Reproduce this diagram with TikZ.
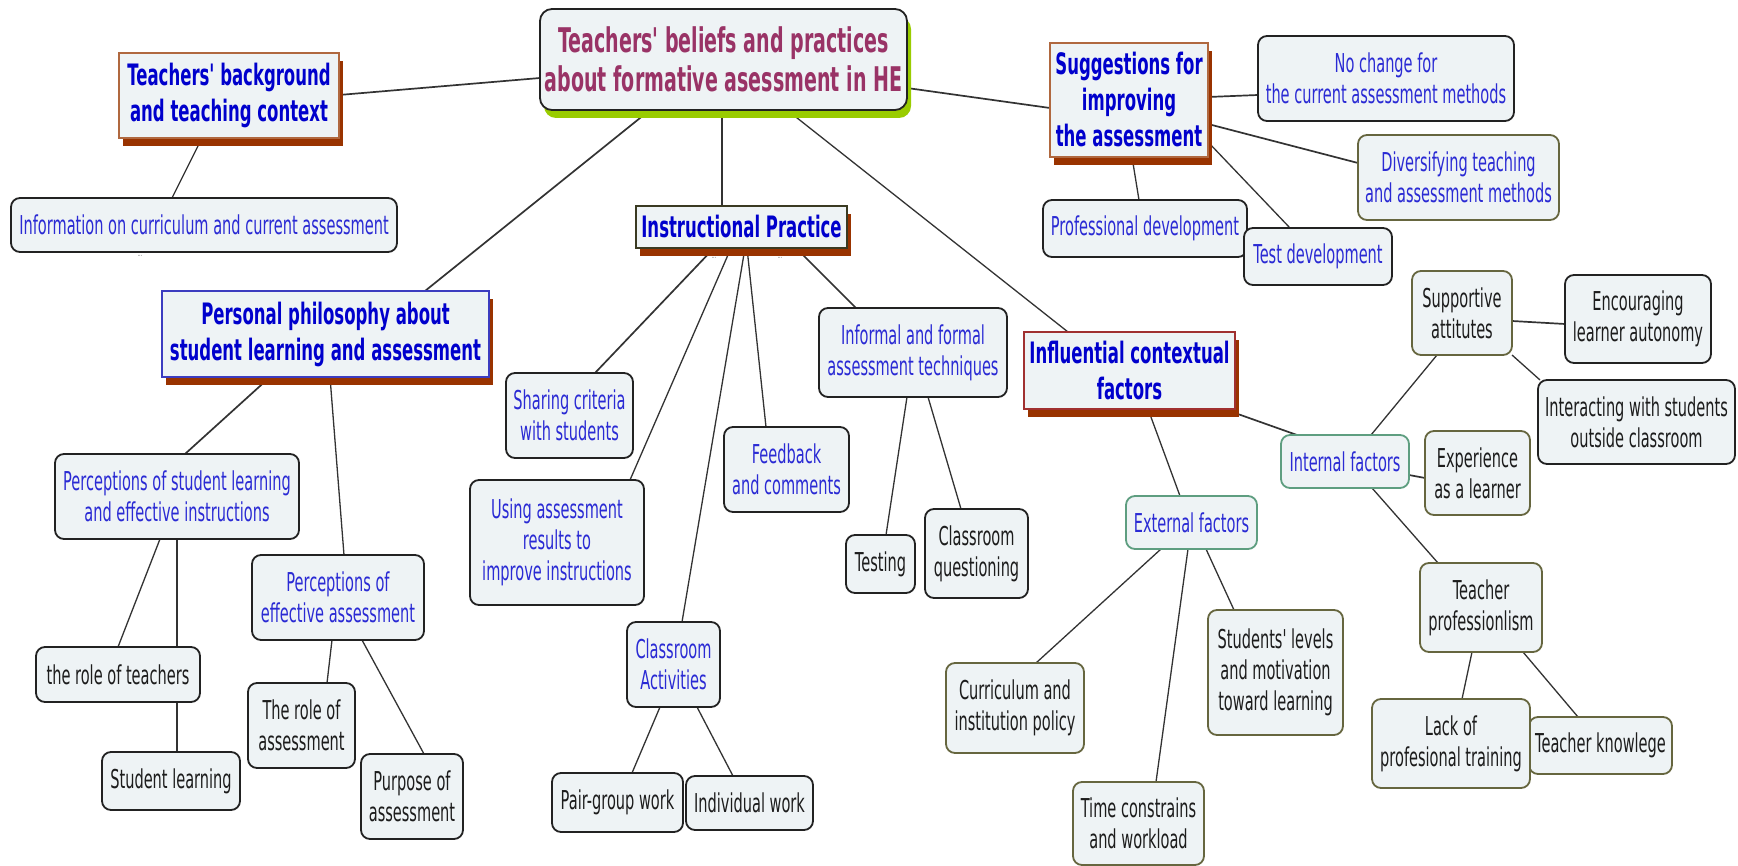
\documentclass[tikz,border=0pt]{standalone}
\usepackage{fontspec}
\setmainfont{DejaVu Sans}[FakeStretch=0.56, Ligatures=TeXOff]
\usetikzlibrary{shadows}
\pgfdeclarelayer{background}
\pgfsetlayers{background,main}

\definecolor{boxfill}{HTML}{EEF3F5}
\definecolor{boxline}{HTML}{222222}
\definecolor{oliveline}{HTML}{66663F}
\definecolor{greenline}{HTML}{5E9E80}
\definecolor{regblue}{HTML}{2A2AD4}
\definecolor{titleblue}{HTML}{0000CC}
\definecolor{roottext}{HTML}{993366}
\definecolor{darktext}{HTML}{1C1C1C}
\definecolor{shadowbrown}{HTML}{993300}
\definecolor{shadowgreen}{HTML}{99CC00}
\definecolor{brownline}{HTML}{B0683F}
\definecolor{blueline}{HTML}{3C3CC0}
\definecolor{redline}{HTML}{A03030}
\definecolor{darkolive}{HTML}{3A3A22}
\definecolor{linkcol}{HTML}{333333}

\tikzset{
  box/.style={draw=boxline, fill=boxfill, rounded corners=9pt, line width=1.8pt,
    inner sep=0pt, outer sep=0pt, align=center, text=regblue,
    font=\fontsize{26}{31}\selectfont},
  dark/.style={text=darktext},
  olive/.style={draw=oliveline},
  greenb/.style={draw=greenline},
  titlebox/.style={fill=boxfill, line width=1.5pt, inner sep=0pt, outer sep=0pt,
    align=center, text=titleblue, font=\bfseries\fontsize{29.5}{36}\selectfont,
    drop shadow={shadow xshift=4pt, shadow yshift=-8pt, fill=shadowbrown, opacity=1}},
  rootbox/.style={draw=boxline, fill=boxfill, rounded corners=12pt, line width=1.8pt,
    inner sep=0pt, outer sep=0pt, align=center, text=roottext,
    font=\bfseries\fontsize{34}{39}\selectfont,
    drop shadow={shadow xshift=4pt, shadow yshift=-8pt, fill=shadowgreen, opacity=1}},
  link/.style={draw=linkcol, line width=1.7pt},
  thinlink/.style={draw=linkcol, line width=1.3pt},
  marker/.style={text=gray, font=\fontsize{9}{9}\selectfont, inner sep=0pt},
}

\begin{document}
\begin{tikzpicture}[x=1pt,y=-1pt]
\begin{pgfonlayer}{background}
  \fill[white] (0,0) rectangle (1738,866);
\end{pgfonlayer}
\useasboundingbox (0,0) rectangle (1738,866);

% central topic
\node[rootbox, minimum width=367pt, minimum height=101pt] (root) at (723.5,59.5)
  {Teachers' beliefs and practices\\about formative asessment in HE};

% main branches
\node[titlebox, draw=brownline, minimum width=220pt, minimum height=85pt] (bg) at (229,95.5)
  {Teachers' background\\and teaching context};
\node[titlebox, draw=brownline, minimum width=158pt, minimum height=114pt] (sugg) at (1129,100)
  {Suggestions for\\improving\\the assessment};
\node[titlebox, draw=blueline, minimum width=327pt, minimum height=86pt] (pers) at (325.5,334)
  {Personal philosophy about\\student learning and assessment};
\node[titlebox, draw=darkolive, minimum width=211pt, minimum height=42pt] (instr) at (741.5,227)
  {Instructional Practice};
\node[titlebox, draw=redline, minimum width=211pt, minimum height=77pt] (influ) at (1129.5,370.5)
  {Influential contextual\\factors};

% background and context
\node[box, minimum width=386pt, minimum height=54pt] (info) at (204,225)
  {Information on curriculum and current assessment};

% suggestions
\node[box, minimum width=256pt, minimum height=85pt] (nochg) at (1386,78.5)
  {No change for\\the current assessment methods};
\node[box, olive, minimum width=201pt, minimum height=85pt] (divers) at (1458.5,177.5)
  {Diversifying teaching\\and assessment methods};
\node[box, minimum width=204pt, minimum height=57pt] (profdev) at (1145,228.5)
  {Professional development};
\node[box, minimum width=148pt, minimum height=57pt] (testdev) at (1318,256.5)
  {Test development};

% personal philosophy
\node[box, minimum width=244pt, minimum height=85pt] (percstu) at (177,496.5)
  {Perceptions of student learning\\and effective instructions};
\node[box, minimum width=172pt, minimum height=85pt] (perceff) at (338,597.5)
  {Perceptions of\\effective assessment};
\node[box, dark, minimum width=164pt, minimum height=55pt] (roleteach) at (118,674.5)
  {the role of teachers};
\node[box, dark, minimum width=138pt, minimum height=58pt] (stulearn) at (171,781)
  {Student learning};
\node[box, dark, minimum width=107pt, minimum height=85pt] (roleass) at (301.5,725.5)
  {The role of\\assessment};
\node[box, dark, minimum width=102pt, minimum height=85pt] (purpose) at (412,796.5)
  {Purpose of\\assessment};

% instructional practice
\node[box, minimum width=127pt, minimum height=85pt] (sharing) at (569.5,415.5)
  {Sharing criteria\\with students};
\node[box, minimum width=174pt, minimum height=125pt] (using) at (557,542.5)
  {Using assessment\\results to\\improve instructions};
\node[box, minimum width=125pt, minimum height=85pt] (feedback) at (786.5,469.5)
  {Feedback\\and comments};
\node[box, minimum width=188pt, minimum height=89pt] (informal) at (913,352.5)
  {Informal and formal\\assessment techniques};
\node[box, dark, minimum width=69pt, minimum height=58pt] (testing) at (880.5,564)
  {Testing};
\node[box, dark, minimum width=103pt, minimum height=89pt] (classq) at (976.5,553.5)
  {Classroom\\questioning};
\node[box, minimum width=93pt, minimum height=85pt] (classact) at (673.5,664.5)
  {Classroom\\Activities};
\node[box, dark, minimum width=131pt, minimum height=59pt] (pair) at (617.5,802.5)
  {Pair-group work};
\node[box, dark, minimum width=127pt, minimum height=54pt] (indiv) at (749.5,803)
  {Individual work};

% contextual factors
\node[box, greenb, minimum width=128pt, minimum height=53pt] (internal) at (1345,461.5)
  {Internal factors};
\node[box, greenb, minimum width=131pt, minimum height=53pt] (external) at (1191.5,522.5)
  {External factors};
\node[box, dark, olive, minimum width=100pt, minimum height=84pt] (support) at (1462,313)
  {Supportive\\attitutes};
\node[box, dark, minimum width=146pt, minimum height=88pt] (encour) at (1638,319)
  {Encouraging\\learner autonomy};
\node[box, dark, minimum width=197pt, minimum height=84pt] (interact) at (1636.5,422)
  {Interacting with students\\outside classroom};
\node[box, dark, olive, minimum width=105pt, minimum height=84pt] (exper) at (1477.5,473)
  {Experience\\as a learner};
\node[box, dark, olive, minimum width=122pt, minimum height=89pt] (teachprof) at (1481,607.5)
  {Teacher\\professionlism};
\node[box, dark, olive, minimum width=143pt, minimum height=57pt] (knowl) at (1600.5,745.5)
  {Teacher knowlege};
\node[box, dark, olive, minimum width=158pt, minimum height=89pt] (lack) at (1451,743.5)
  {Lack of\\profesional training};
\node[box, dark, olive, minimum width=138pt, minimum height=90pt] (curric) at (1015,708)
  {Curriculum and\\institution policy};
\node[box, dark, olive, minimum width=135pt, minimum height=125pt] (students) at (1275.5,672.5)
  {Students' levels\\and motivation\\toward learning};
\node[box, dark, olive, minimum width=131pt, minimum height=83pt] (timec) at (1138.5,823.5)
  {Time constrains\\and workload};

% collapsed-branch markers
\node[marker] (mka) at (140,256) {...};
\node[marker] (mkb) at (714,258) {...};
\node[marker] (mkc) at (780,258) {...};

% connectors, drawn beneath the boxes
\begin{pgfonlayer}{background}
\draw[link] ([shift={(220,42)}]bg.north west) -- ([shift={(0,69)}]root.north west);
\draw[thinlink] ([shift={(83,85)}]bg.north west) -- ([shift={(161,0)}]info.north west);
\draw[link] ([shift={(367,79)}]root.north west) -- ([shift={(0,65)}]sugg.north west);
\draw[link] ([shift={(158,54)}]sugg.north west) -- ([shift={(0,59)}]nochg.north west);
\draw[link] ([shift={(158,81)}]sugg.north west) -- ([shift={(0,28)}]divers.north west);
\draw[thinlink] ([shift={(158,99)}]sugg.north west) -- ([shift={(46,0)}]testdev.north west);
\draw[thinlink] ([shift={(82,114)}]sugg.north west) -- ([shift={(96,0)}]profdev.north west);
\draw[link] ([shift={(110,101)}]root.north west) -- ([shift={(263,0)}]pers.north west);
\draw[thinlink] ([shift={(182,101)}]root.north west) -- ([shift={(86,0)}]instr.north west);
\draw[thinlink] ([shift={(247,101)}]root.north west) -- ([shift={(44,0)}]influ.north west);
\draw[link] ([shift={(108,86)}]pers.north west) -- ([shift={(130,0)}]percstu.north west);
\draw[thinlink] ([shift={(168,86)}]pers.north west) -- ([shift={(92,0)}]perceff.north west);
\draw[thinlink] ([shift={(105,85)}]percstu.north west) -- ([shift={(82,0)}]roleteach.north west);
\draw[thinlink] ([shift={(122,85)}]percstu.north west) -- ([shift={(75,0)}]stulearn.north west);
\draw[thinlink] ([shift={(80,85)}]perceff.north west) -- ([shift={(79,0)}]roleass.north west);
\draw[thinlink] ([shift={(110,85)}]perceff.north west) -- ([shift={(63,0)}]purpose.north west);
\draw[link] ([shift={(78,42)}]instr.north west) -- ([shift={(89,0)}]sharing.north west);
\draw[thinlink] ([shift={(95,42)}]instr.north west) -- ([shift={(160,0)}]using.north west);
\draw[thinlink] ([shift={(109,42)}]instr.north west) -- ([shift={(55,0)}]classact.north west);
\draw[thinlink] ([shift={(111,42)}]instr.north west) -- ([shift={(42,0)}]feedback.north west);
\draw[link] ([shift={(160,42)}]instr.north west) -- ([shift={(37,0)}]informal.north west);
\draw[thinlink] ([shift={(88,89)}]informal.north west) -- ([shift={(40,0)}]testing.north west);
\draw[thinlink] ([shift={(109,89)}]informal.north west) -- ([shift={(36,0)}]classq.north west);
\draw[thinlink] ([shift={(33,85)}]classact.north west) -- ([shift={(80,0)}]pair.north west);
\draw[thinlink] ([shift={(70,85)}]classact.north west) -- ([shift={(47,0)}]indiv.north west);
\draw[link] ([shift={(211,81)}]influ.north west) -- ([shift={(16,0)}]internal.north west);
\draw[thinlink] ([shift={(124,77)}]influ.north west) -- ([shift={(54,0)}]external.north west);
\draw[thinlink] ([shift={(90,0)}]internal.north west) -- ([shift={(25,84)}]support.north west);
\draw[link] ([shift={(100,50)}]support.north west) -- ([shift={(0,49)}]encour.north west);
\draw[thinlink] ([shift={(100,84)}]support.north west) -- ([shift={(2,0)}]interact.north west);
\draw[link] ([shift={(128,40)}]internal.north west) -- ([shift={(0,47)}]exper.north west);
\draw[thinlink] ([shift={(91,53)}]internal.north west) -- ([shift={(18,0)}]teachprof.north west);
\draw[thinlink] ([shift={(35,53)}]external.north west) -- ([shift={(90,0)}]curric.north west);
\draw[thinlink] ([shift={(62,53)}]external.north west) -- ([shift={(83,0)}]timec.north west);
\draw[thinlink] ([shift={(80,53)}]external.north west) -- ([shift={(26,0)}]students.north west);
\draw[thinlink] ([shift={(52,89)}]teachprof.north west) -- ([shift={(90,0)}]lack.north west);
\draw[thinlink] ([shift={(103,89)}]teachprof.north west) -- ([shift={(49,0)}]knowl.north west);
\end{pgfonlayer}
\end{tikzpicture}
\end{document}
